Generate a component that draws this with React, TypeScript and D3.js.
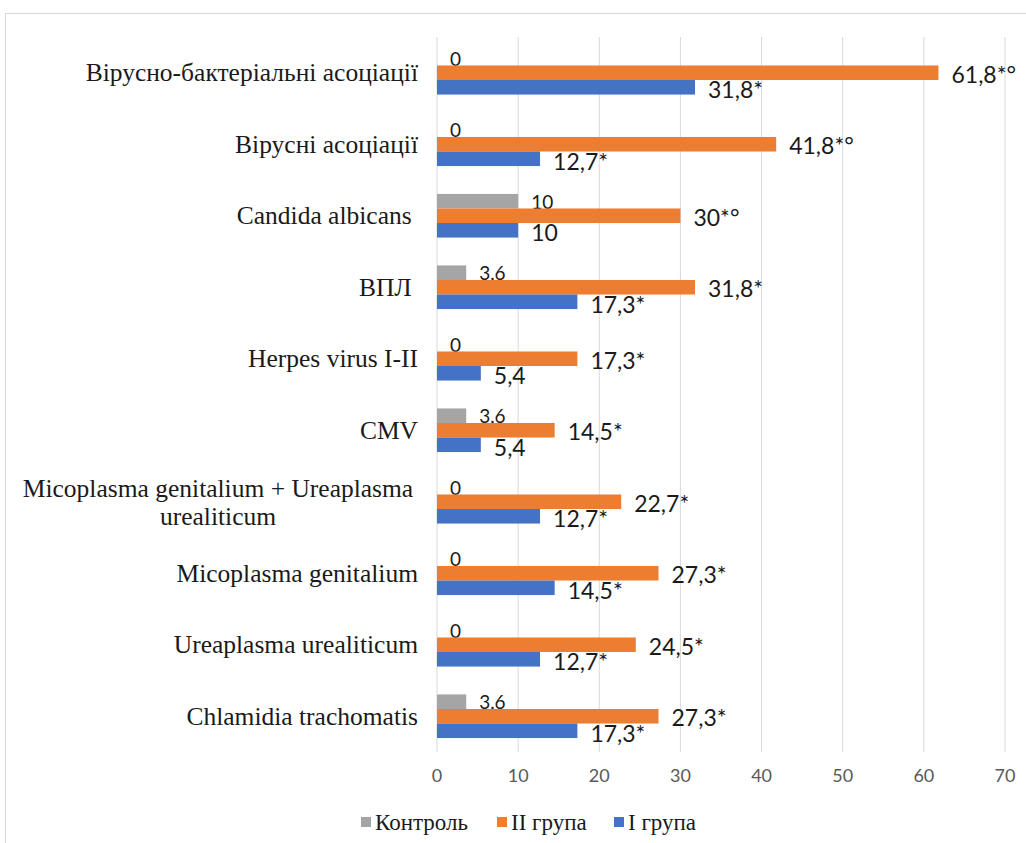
import React from "react";
import * as d3 from "d3";

const categories = [
  "Вірусно-бактеріальні асоціації",
  "Вірусні асоціації",
  "Candida albicans ",
  "ВПЛ ",
  "Herpes virus I-II",
  "CMV",
  "Micoplasma genitalium + Ureaplasma urealiticum",
  "Micoplasma genitalium",
  "Ureaplasma urealiticum",
  "Chlamidia trachomatis",
];
const categoryLines = [
  ["Вірусно-бактеріальні асоціації"],
  ["Вірусні асоціації"],
  ["Candida albicans "],
  ["ВПЛ "],
  ["Herpes virus I-II"],
  ["CMV"],
  ["Micoplasma genitalium + Ureaplasma", "urealiticum"],
  ["Micoplasma genitalium"],
  ["Ureaplasma urealiticum"],
  ["Chlamidia trachomatis"],
];

const controlValues = [0, 0, 10, 3.6, 0, 3.6, 0, 0, 0, 3.6];
const group2Values = [61.8, 41.8, 30, 31.8, 17.3, 14.5, 22.7, 27.3, 24.5, 27.3];
const group1Values = [31.8, 12.7, 10, 17.3, 5.4, 5.4, 12.7, 14.5, 12.7, 17.3];

const controlLabels = ["0", "0", "10", "3,6", "0", "3,6", "0", "0", "0", "3,6"];
const group2Labels = ["61,8*°", "41,8*°", "30*°", "31,8*", "17,3*", "14,5*", "22,7*", "27,3*", "24,5*", "27,3*"];
const group1Labels = ["31,8*", "12,7*", "10", "17,3*", "5,4", "5,4", "12,7*", "14,5*", "12,7*", "17,3*"];

const xTicks = [0, 10, 20, 30, 40, 50, 60, 70];

const seriesNames = ["Контроль", "II група", "I група"];
const seriesColors = ["#A5A5A5", "#ED7D31", "#4472C4"];

export default function App() {
  const W = 1026;
  const H = 843;
  const x = d3.scaleLinear().domain([0, 70]).range([437, 1005]);
  const y = d3
    .scaleBand<string>()
    .domain(categories)
    .range([37, 752])
    .paddingInner(0.39)
    .paddingOuter(0.195);
  const inner = d3.scaleBand<string>().domain(seriesNames).range([0, y.bandwidth()]);

  const series = [
    { name: seriesNames[0], values: controlValues, labels: controlLabels, color: seriesColors[0], fs: 19, dx: 13, dy: 0 },
    { name: seriesNames[1], values: group2Values, labels: group2Labels, color: seriesColors[1], fs: 23, dx: 13, dy: 1 },
    { name: seriesNames[2], values: group1Values, labels: group1Labels, color: seriesColors[2], fs: 23, dx: 13, dy: 2 },
  ];

  const legendItems = [
    { name: seriesNames[0], color: seriesColors[0], x: 361 },
    { name: seriesNames[1], color: seriesColors[1], x: 497 },
    { name: seriesNames[2], color: seriesColors[2], x: 614 },
  ];

  const serif = "'Liberation Serif', 'Times New Roman', serif";
  const sans = "Lato, 'Open Sans', sans-serif";

  return (
    <svg
      width={W}
      height={H}
      style={{ position: "absolute", left: 0, top: 0, background: "#fff" }}
    >
      <rect x={5.5} y={13.5} width={1030} height={840} fill="#fff" stroke="#d9d9d9" strokeWidth={1} />
      {xTicks.map((t) => (
        <line key={t} x1={x(t)} x2={x(t)} y1={37} y2={752} stroke="#d9d9d9" strokeWidth={1} />
      ))}
      {xTicks.map((t) => (
        <text
          key={"t" + t}
          x={x(t)}
          y={775}
          textAnchor="middle"
          dominantBaseline="central"
          fontFamily={sans}
          fontSize={18}
          fill="#595959"
        >
          {t}
        </text>
      ))}
      {categories.map((c, i) => {
        const cy = (y(c) as number) + y.bandwidth() / 2;
        const lines = categoryLines[i];
        const lh = 28;
        if (lines.length === 1) {
          return (
            <text
              key={c}
              x={418}
              y={cy}
              textAnchor="end"
              dominantBaseline="central"
              fontFamily={serif}
              fontSize={25.5}
              fill="#1a1a1a"
              style={{ whiteSpace: "pre" }}
            >
              {lines[0]}
            </text>
          );
        }
        return (
          <text
            key={c}
            x={218}
            textAnchor="middle"
            dominantBaseline="central"
            fontFamily={serif}
            fontSize={25.5}
            fill="#1a1a1a"
          >
            {lines.map((l, k) => (
              <tspan key={k} x={218} y={cy - ((lines.length - 1) * lh) / 2 + k * lh}>
                {l}
              </tspan>
            ))}
          </text>
        );
      })}
      {series.map((s) =>
        categories.map((c, i) => {
          const by = (y(c) as number) + (inner(s.name) as number);
          const bh = inner.bandwidth();
          const v = s.values[i];
          return (
            <g key={s.name + c}>
              {v > 0 && (
                <rect x={x(0)} y={by} width={x(v) - x(0)} height={bh} fill={s.color} />
              )}
              <text
                x={x(v) + s.dx}
                y={by + bh / 2 + s.dy}
                dominantBaseline="central"
                fontFamily={sans}
                fontSize={s.fs}
                fill="#1a1a1a"
              >
                {s.labels[i]}
              </text>
            </g>
          );
        })
      )}
      {legendItems.map((l) => (
        <g key={l.name}>
          <rect x={l.x} y={817} width={10} height={10} fill={l.color} />
          <text
            x={l.x + 14}
            y={822}
            dominantBaseline="central"
            fontFamily={serif}
            fontSize={23}
            fill="#1a1a1a"
          >
            {l.name}
          </text>
        </g>
      ))}
    </svg>
  );
}
